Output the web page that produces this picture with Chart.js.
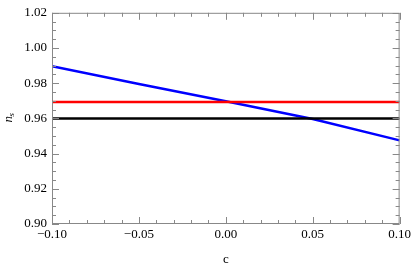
<!DOCTYPE html>
<html>
<head>
<meta charset="utf-8">
<script src="https://cdn.jsdelivr.net/npm/chart.js@4"></script>
<style>
  html, body { margin: 0; padding: 0; background: #fff; }
  #wrap { width: 414px; height: 267px; }
</style>
</head>
<body>
<div id="wrap"><canvas id="chart" width="414" height="267"></canvas></div>
<script>
// values
const cValues = [-0.10, -0.05, 0.00, 0.05, 0.10];
const blueNs  = [0.9897, 0.9796, 0.9697, 0.9597, 0.9475];
const redNs   = [0.9693, 0.9693, 0.9693, 0.9693, 0.9693];
const blackNs = [0.960, 0.960, 0.960, 0.960, 0.960];

const xTicks = [-0.10, -0.05, 0.00, 0.05, 0.10];
const yTicks = [0.90, 0.92, 0.94, 0.96, 0.98, 1.00, 1.02];

const FONT = '"Liberation Serif", "DejaVu Serif", serif';
const FRAME = '#888';

const toPoints = (ys) => cValues.map((x, i) => ({ x, y: ys[i] }));
const fmt = (v, d) => (v < 0 ? '\u2212' : '') + Math.abs(v).toFixed(d);

// inward ticks on all four sides + n_s label
const framePlugin = {
  id: 'frame',
  afterDraw(chart) {
    const { ctx, chartArea: a, scales: { x, y } } = chart;
    ctx.save();
    ctx.strokeStyle = FRAME;
    ctx.lineWidth = 1;
    ctx.strokeRect(a.left + 0.5, a.top + 0.5, a.right - a.left - 1, a.bottom - a.top - 1);
    ctx.beginPath();
    for (let k = 0; k <= 20; k++) {
      const v = -0.10 + k * 0.01;
      const px = Math.round(x.getPixelForValue(v)) + 0.5;
      const len = k % 5 === 0 ? 7 : 4;
      ctx.moveTo(px, a.bottom); ctx.lineTo(px, a.bottom - len);
      ctx.moveTo(px, a.top); ctx.lineTo(px, a.top + len);
    }
    for (let k = 0; k <= 24; k++) {
      const v = 0.90 + k * 0.005;
      const py = Math.round(y.getPixelForValue(v)) + 0.5;
      const len = k % 4 === 0 ? 7 : 4;
      ctx.moveTo(a.left, py); ctx.lineTo(a.left + len, py);
      ctx.moveTo(a.right, py); ctx.lineTo(a.right - len, py);
    }
    ctx.stroke();

    // y axis title: n with subscript s
    ctx.translate(8, (a.top + a.bottom) / 2 - 1);
    ctx.rotate(-Math.PI / 2);
    ctx.fillStyle = '#000';
    ctx.textBaseline = 'alphabetic';
    ctx.font = 'italic 13px ' + FONT;
    ctx.fillText('n', -5, 4);
    ctx.font = 'italic 9px ' + FONT;
    ctx.fillText('s', 1, 6);
    ctx.restore();
  }
};

new Chart(document.getElementById('chart'), {
  type: 'scatter',
  data: {
    datasets: [
      { data: toPoints(blackNs), borderColor: '#000', borderWidth: 2.5, showLine: true, pointRadius: 0 },
      { data: toPoints(redNs), borderColor: '#ff0000', borderWidth: 2.5, showLine: true, pointRadius: 0 },
      { data: toPoints(blueNs), borderColor: '#0000ff', borderWidth: 2.5, showLine: true, pointRadius: 0 },
    ],
  },
  options: {
    responsive: false,
    animation: false,
    layout: { padding: { top: 8, right: 13, left: 0, bottom: 0 } },
    plugins: { legend: { display: false }, tooltip: { enabled: false } },
    scales: {
      x: {
        type: 'linear',
        min: -0.10,
        max: 0.10,
        afterBuildTicks: (s) => { s.ticks = xTicks.map(v => ({ value: v })); },
        afterFit: (s) => { s.height = 43; },
        grid: { display: false, drawTicks: false },
        border: { display: false },
        ticks: {
          color: '#000',
          padding: 3,
          font: { family: FONT, size: 13 },
          callback: (v) => fmt(v, 2),
          maxRotation: 0,
        },
        title: { display: true, text: 'c', color: '#000', font: { family: FONT, size: 13 }, padding: { top: 4, bottom: 0 } },
      },
      y: {
        min: 0.90,
        max: 1.02,
        afterBuildTicks: (s) => { s.ticks = yTicks.map(v => ({ value: v })); },
        afterFit: (s) => { s.width = 52; },
        grid: { display: false, drawTicks: false },
        border: { display: false },
        ticks: {
          color: '#000',
          padding: 5,
          font: { family: FONT, size: 13 },
          callback: (v) => fmt(v, 2),
        },
      },
    },
  },
  plugins: [framePlugin],
});
</script>
</body>
</html>
